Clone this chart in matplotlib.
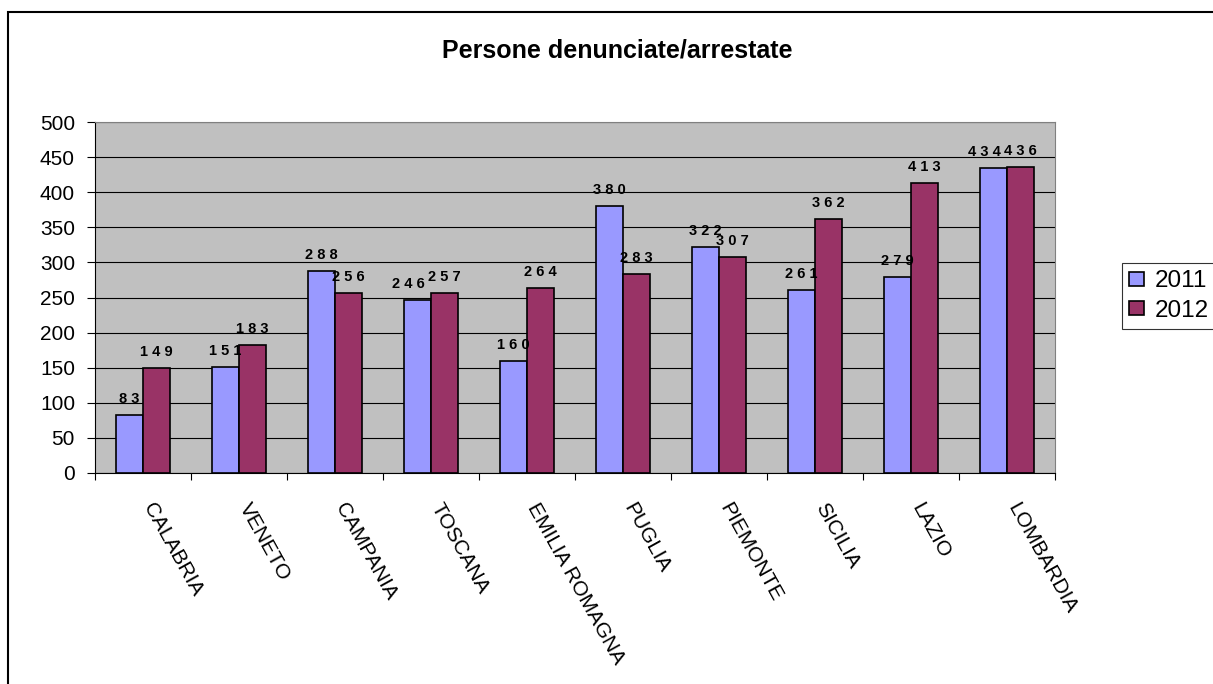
import matplotlib
matplotlib.use("Agg")
import matplotlib.pyplot as plt
import numpy as np
from matplotlib.patches import Rectangle

plt.rcParams['font.family'] = ['Liberation Sans', 'DejaVu Sans']

regions = ["CALABRIA", "VENETO", "CAMPANIA", "TOSCANA", "EMILIA ROMAGNA",
           "PUGLIA", "PIEMONTE", "SICILIA", "LAZIO", "LOMBARDIA"]
v2011 = [83, 151, 288, 246, 160, 380, 322, 261, 279, 434]
v2012 = [149, 183, 256, 257, 264, 283, 307, 362, 413, 436]
series_names = ["2011", "2012"]
yticks = [0, 50, 100, 150, 200, 250, 300, 350, 400, 450, 500]

W, H = 1213, 684
fig = plt.figure(figsize=(W / 100, H / 100), dpi=100)
fig.patch.set_facecolor("white")

# outer chart border
fig.patches.append(Rectangle((8 / W, -0.05), 1.1, 1 - 12 / H + 0.05,
                             transform=fig.transFigure, fill=False,
                             edgecolor="black", linewidth=1.5, clip_on=False))

left, right, top, bottom = 95, 1055, 122, 473
ax = fig.add_axes([left / W, 1 - bottom / H, (right - left) / W, (bottom - top) / H])
ax.set_facecolor("#C0C0C0")

x = np.arange(len(regions))
bw = 1 / 3.5
b1 = ax.bar(x - bw / 2, v2011, bw, color="#9999FF", edgecolor="black", linewidth=1.2,
            label=series_names[0], zorder=3)
b2 = ax.bar(x + bw / 2, v2012, bw, color="#993366", edgecolor="black", linewidth=1.2,
            label=series_names[1], zorder=3)

for k, (bars, vals, other) in enumerate(((b1, v2011, v2012), (b2, v2012, v2011))):
    for rect, v, o in zip(bars, vals, other):
        dx = 0
        if abs(v - o) < 12:  # labels at similar heights: push apart
            dx = -9 if k == 0 else 0
        ax.annotate(" ".join(str(v)), xy=(rect.get_x() + rect.get_width() / 2, v),
                    xytext=(dx, 12), textcoords="offset pixels",
                    ha="center", va="baseline", fontsize=10.5, fontweight="bold",
                    zorder=4)

ax.set_xlim(-0.5, len(regions) - 0.5)
ax.set_ylim(0, 500)
ax.set_yticks(yticks)
ax.set_yticklabels([str(t) for t in yticks], fontsize=15)
ax.yaxis.grid(True, color="black", linewidth=0.8, zorder=1)
ax.set_axisbelow(True)
ax.tick_params(axis="y", length=5.8, width=0.8, pad=8.6, direction="out")

ax.set_xticks(np.arange(len(regions) + 1) - 0.5)
ax.set_xticklabels([""] * (len(regions) + 1))
ax.tick_params(axis="x", length=4.7, width=0.8, direction="out")

for i, name in enumerate(regions):
    ax.annotate(name, xy=(i, 0), xycoords=("data", "axes fraction"),
                xytext=(13, -27), textcoords="offset pixels",
                rotation=-61, rotation_mode="anchor",
                ha="left", va="top", fontsize=15, annotation_clip=False)

for s in ("top", "right"):
    ax.spines[s].set_color("#808080")
    ax.spines[s].set_linewidth(0.8)
ax.spines["left"].set_color("black")
ax.spines["bottom"].set_color("black")

fig.text(617 / W, 1 - 51 / H, "Persone denunciate/arrestate", ha="center", va="center",
         fontsize=18, fontweight="bold")

leg = fig.legend(handles=[b1, b2], labels=series_names, loc="upper left",
                 bbox_to_anchor=(1122 / W, 1 - 263 / H), fontsize=17.5,
                 frameon=True, fancybox=False, edgecolor="black",
                 handlelength=0.6, handleheight=0.5, handletextpad=0.45,
                 borderpad=0.3, labelspacing=0.3, borderaxespad=0)
leg.get_frame().set_linewidth(0.8)

fig.savefig("out.png", dpi=100)
